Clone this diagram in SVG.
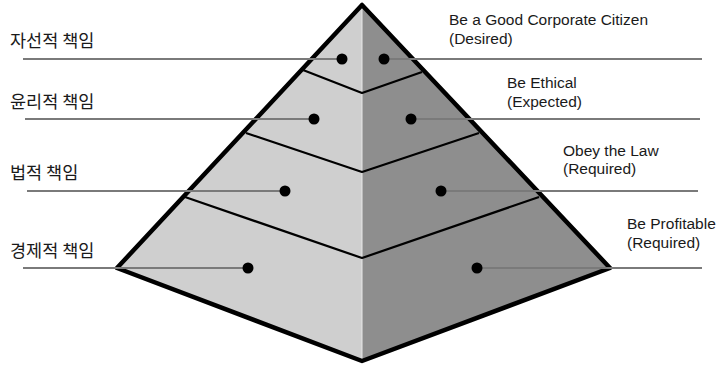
<svg xmlns="http://www.w3.org/2000/svg" width="721" height="365" viewBox="0 0 721 365">
<style>
.lbl{font-family:"Noto Sans CJK KR","Noto Sans",sans-serif;font-size:17.5px;fill:#1a1a1a}
.en{font-family:"Liberation Sans",Arial,sans-serif;font-size:15.5px;fill:#1a1a1a}
.lead{stroke:#7a7a7a;stroke-width:2;fill:none}
.tier{stroke:#000;stroke-width:2.2;fill:none;stroke-linejoin:round}
.dot{fill:#000}
</style>
<rect width="721" height="365" fill="#fff"/>
<g id="pyramid">
<polygon points="362,5 117,268 362,361" fill="#cfcfcf"/>
<polygon points="362,5 610,268 362,361" fill="#8e8e8e"/>
<line x1="362" y1="6" x2="362" y2="360" stroke="#e8e8e8" stroke-width="1"/>
<path class="tier" d="M303,70 L362,93 L422,72"/>
<path class="tier" d="M246,133 L362,172 L479,133"/>
<path class="tier" d="M185,197 L362,258 L539,197"/>
<polygon points="362,5 117,268 362,361 610,268" fill="none" stroke="#000" stroke-width="4.5" stroke-linejoin="round"/>
</g>
<g id="connectors">
<line class="lead" x1="23" y1="59" x2="342" y2="59"/>
<line class="lead" x1="25" y1="119" x2="314" y2="119"/>
<line class="lead" x1="27" y1="191" x2="285" y2="191"/>
<line class="lead" x1="23" y1="268" x2="248" y2="268"/>
<line class="lead" x1="384" y1="59" x2="702" y2="59"/>
<line class="lead" x1="411" y1="119" x2="700" y2="119"/>
<line class="lead" x1="441" y1="191" x2="698" y2="191"/>
<line class="lead" x1="477" y1="268" x2="702" y2="268"/>
</g>
<g id="tier1">
<circle class="dot" cx="342" cy="59" r="5.5"/>
<circle class="dot" cx="384" cy="59" r="5.5"/>
<text class="lbl" x="10" y="47">자선적 책임</text>
<text class="en" x="449" y="25">Be a Good Corporate Citizen</text>
<text class="en" x="449" y="44">(Desired)</text>
</g>
<g id="tier2">
<circle class="dot" cx="314" cy="119" r="5.5"/>
<circle class="dot" cx="411" cy="119" r="5.5"/>
<text class="lbl" x="10" y="108">윤리적 책임</text>
<text class="en" x="507" y="88">Be Ethical</text>
<text class="en" x="507" y="107">(Expected)</text>
</g>
<g id="tier3">
<circle class="dot" cx="285" cy="191" r="5.5"/>
<circle class="dot" cx="441" cy="191" r="5.5"/>
<text class="lbl" x="10" y="179">법적 책임</text>
<text class="en" x="563" y="156">Obey the Law</text>
<text class="en" x="563" y="174">(Required)</text>
</g>
<g id="tier4">
<circle class="dot" cx="248" cy="268" r="5.5"/>
<circle class="dot" cx="477" cy="268" r="5.5"/>
<text class="lbl" x="10" y="257">경제적 책임</text>
<text class="en" x="627" y="229">Be Profitable</text>
<text class="en" x="627" y="248">(Required)</text>
</g>
</svg>
